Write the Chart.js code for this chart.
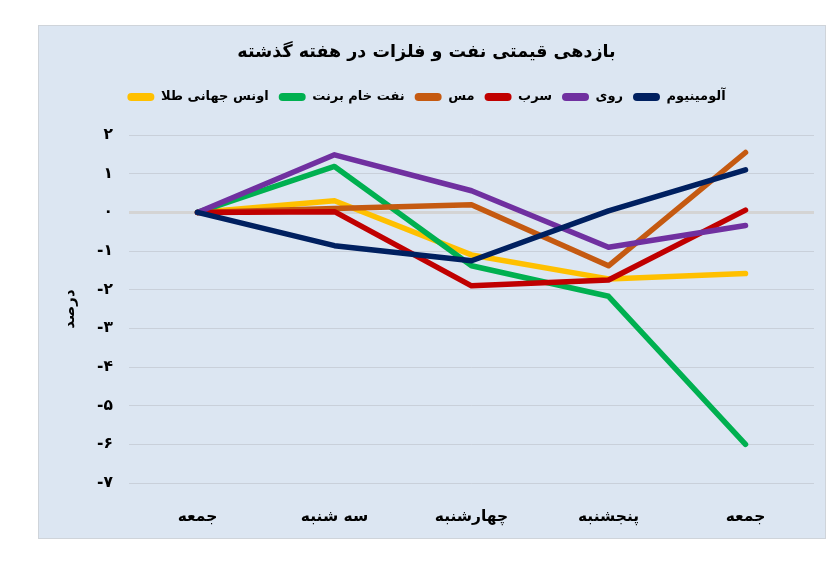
<!DOCTYPE html>
<html><head><meta charset="utf-8">
<script src="https://cdn.jsdelivr.net/npm/chart.js@4/dist/chart.umd.min.js"></script>
<style>
html,body{margin:0;padding:0;background:#fff;width:837px;height:575px;overflow:hidden}
#box{position:absolute;left:38px;top:25px;width:786px;height:512px;background:#dce6f2;border:1px solid #cfd4da}
canvas{display:block}
</style></head><body>
<div id="box"><canvas id="c" width="786" height="512"></canvas></div>
<script>
const categories = ['جمعه','سه شنبه','چهارشنبه','پنجشنبه','جمعه'];
const seriesNames = ['اونس جهانی طلا','نفت خام برنت','مس','سرب','روی','آلومینیوم'];
const gold = [0, 0.30, -1.10, -1.72, -1.58];
const brent = [0, 1.19, -1.38, -2.17, -6.0];
const copper = [0, 0.10, 0.20, -1.38, 1.55];
const lead = [0, 0.02, -1.90, -1.75, 0.06];
const zinc = [0, 1.49, 0.56, -0.90, -0.34];
const aluminium = [0, -0.86, -1.25, 0.04, 1.10];
const yTickValues = [2,1,0,-1,-2,-3,-4,-5,-6,-7];
const yTickLabels = ['۲','۱','۰','-۱','-۲','-۳','-۴','-۵','-۶','-۷'];
const colors = ['#ffc000','#00b050','#c55a11','#c00000','#7030a0','#002060'];
const values = [gold, brent, copper, lead, zinc, aluminium];

const FONT = "'DejaVu Sans', sans-serif";
const datasets = values.map((v,i)=>({
  label: seriesNames[i], data: v,
  borderColor: colors[i], backgroundColor: colors[i],
  borderWidth: 5.5, pointRadius: 0, tension: 0,
  borderCapStyle: 'round', borderJoinStyle: 'round',
  order: values.length - 1 - i
}));

const legendHeightFix = {
  id: 'legendHeightFix',
  afterInit(chart) {
    const lg = chart.legend;
    if (lg && !lg._patched) {
      const fit = lg.fit;
      lg.fit = function() { fit.call(this); this.height = 54.6; };
      lg._patched = true;
    }
  }
};

new Chart(document.getElementById('c'), {
  type: 'line',
  data: { labels: categories, datasets },
  plugins: [legendHeightFix],
  options: {
    responsive: false, animation: false,
    layout: { padding: { left: 0, right: 11, top: 0, bottom: 10 } },
    plugins: {
      title: { display: true, text: 'بازدهی قیمتی نفت و فلزات در هفته گذشته',
        color: '#000', font: { family: FONT, size: 17.5, weight: 'bold' },
        padding: { top: 16, bottom: 17.5 } },
      legend: { display: true, position: 'top',
        labels: { color: '#000', font: { family: FONT, size: 13, weight: 'bold' },
          boxWidth: 27, boxHeight: 8, useBorderRadius: true, borderRadius: 4,
          padding: 10,
          sort: (a,b)=>a.datasetIndex-b.datasetIndex,
          generateLabels: chart => Chart.defaults.plugins.legend.labels.generateLabels(chart)
            .map(l => Object.assign(l, { lineWidth: 0, strokeStyle: 'rgba(0,0,0,0)' })) }
        },
      tooltip: { enabled: false }
    },
    scales: {
      x: { offset: true, grid: { display: false, drawTicks: false }, border: { display: false },
        afterFit: s => { s.height = 45; },
        ticks: { color: '#000', font: { family: FONT, size: 15.5, weight: 'bold' }, padding: 25, maxRotation: 0 } },
      y: { min: -7, max: 2, afterFit: s => { s.width = 90; },
        afterBuildTicks: s => { s.ticks = yTickValues.map(v=>({value:v})); },
        border: { display: false },
        grid: { drawTicks: false,
          color: c => c.tick && c.tick.value === 0 ? '#d4d4d4' : 'rgba(185,190,198,0.55)',
          lineWidth: c => c.tick && c.tick.value === 0 ? 3 : 1 },
        ticks: { color: '#000', font: { family: FONT, size: 15.5, weight: 'bold' }, padding: 16,
          callback: v => yTickLabels[yTickValues.indexOf(v)] },
        title: { display: true, text: 'درصد', color: '#000',
          font: { family: FONT, size: 15, weight: 'bold' }, padding: { top: 22, bottom: 0 } } }
    }
  }
});
</script>
</body></html>
